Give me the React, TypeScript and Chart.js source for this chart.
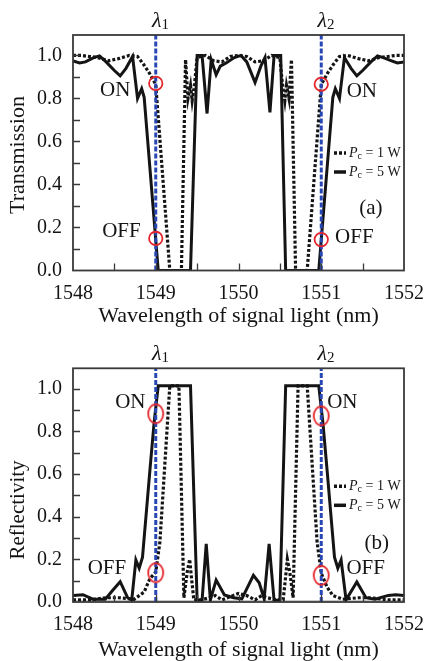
import React, { useEffect, useRef } from "react";
import { Chart, registerables } from "chart.js";

Chart.register(...registerables);

// ---------- axes ----------
const X_MIN = 1548;
const X_MAX = 1552;
const Y_MIN = 0;
const Y_MAX = 1.095;
const X_MINOR_TICKS = [1548.5, 1549, 1549.5, 1550, 1550.5, 1551, 1551.5];
const Y_MINOR_TICKS = [0.1, 0.2, 0.3, 0.4, 0.5, 0.6, 0.7, 0.8, 0.9, 1.0];
const X_TITLE = "Wavelength of signal light (nm)";
const LAMBDA_X = [1549, 1551];
const LAMBDA_SUB = ["1", "2"];
const LEGEND_VALUES = ["1 W", "5 W"];

// ---------- (a) Transmission ----------
const T1_X = [1548.0, 1548.1, 1548.2, 1548.3, 1548.43, 1548.55, 1548.68, 1548.78, 1548.85, 1548.92, 1549.0, 1549.17, 1549.31, 1549.36, 1549.39, 1549.42, 1549.44, 1549.47, 1549.5, 1549.6, 1549.7, 1549.8, 1549.9, 1550.0, 1550.1, 1550.2, 1550.3, 1550.4, 1550.5, 1550.53, 1550.56, 1550.58, 1550.61, 1550.64, 1550.69, 1550.83, 1551.0, 1551.08, 1551.15, 1551.22, 1551.32, 1551.45, 1551.57, 1551.7, 1551.8, 1551.9, 1552.0];
const T1_Y = [1.0, 1.0, 0.995, 0.99, 0.975, 0.985, 1.0, 0.995, 0.96, 0.92, 0.865, 0.0, 0.0, 0.98, 0.8, 0.86, 0.79, 0.87, 0.99, 1.0, 0.975, 0.97, 0.995, 1.0, 0.995, 0.97, 0.975, 1.0, 0.99, 0.87, 0.79, 0.86, 0.8, 0.98, 0.0, 0.0, 0.865, 0.92, 0.96, 0.995, 1.0, 0.985, 0.975, 0.99, 0.995, 1.0, 1.0];
const T5_X = [1548.0, 1548.08, 1548.15, 1548.25, 1548.32, 1548.4, 1548.5, 1548.57, 1548.64, 1548.72, 1548.78, 1548.83, 1548.86, 1549.03, 1549.42, 1549.5, 1549.56, 1549.62, 1549.67, 1549.73, 1549.78, 1549.85, 1549.95, 1550.03, 1550.1, 1550.2, 1550.27, 1550.32, 1550.38, 1550.43, 1550.51, 1550.57, 1550.97, 1551.14, 1551.17, 1551.22, 1551.28, 1551.36, 1551.43, 1551.5, 1551.6, 1551.68, 1551.75, 1551.85, 1551.92, 1552.0];
const T5_Y = [0.975, 0.965, 0.97, 0.99, 0.998, 0.97, 0.93, 0.905, 0.94, 0.995, 0.8, 0.845, 0.805, 0.0, 0.0, 1.0, 1.0, 0.73, 0.98, 0.91, 0.95, 0.965, 0.99, 1.0, 0.97, 0.874, 0.95, 0.99, 0.735, 1.0, 1.0, 0.0, 0.0, 0.805, 0.845, 0.8, 0.99, 0.94, 0.905, 0.93, 0.97, 0.998, 0.99, 0.975, 0.965, 0.97];
const T_MARK_X = [1549, 1549, 1551, 1551];
const T_MARK_Y = [0.87, 0.149, 0.866, 0.144];
const T_NOTE_TEXT = ["ON", "OFF", "ON", "OFF", "(a)"];
const T_NOTE_X = [1548.51, 1548.585, 1551.49, 1551.4, 1551.6];
const T_NOTE_Y = [0.835, 0.18, 0.834, 0.152, 0.29];

// ---------- (b) Reflectivity ----------
const R1_X = [1548.0, 1548.2, 1548.4, 1548.55, 1548.74, 1548.86, 1548.93, 1549.0, 1549.05, 1549.17, 1549.28, 1549.34, 1549.38, 1549.41, 1549.43, 1549.46, 1549.55, 1549.65, 1549.72, 1549.8, 1549.9, 1550.0, 1550.1, 1550.2, 1550.28, 1550.35, 1550.45, 1550.54, 1550.57, 1550.59, 1550.62, 1550.66, 1550.72, 1550.83, 1550.95, 1551.0, 1551.07, 1551.14, 1551.26, 1551.45, 1551.6, 1551.8, 1552.0];
const R1_Y = [0.01, 0.01, 0.02, 0.02, 0.013, 0.047, 0.11, 0.14, 0.28, 1.013, 1.013, 0.02, 0.14, 0.2, 0.12, 0.01, 0.01, 0.02, 0.03, 0.01, 0.025, 0.04, 0.03, 0.01, 0.03, 0.02, 0.01, 0.01, 0.12, 0.2, 0.14, 0.02, 1.013, 1.013, 0.28, 0.135, 0.07, 0.03, 0.013, 0.02, 0.02, 0.01, 0.01];
const R5_X = [1548.0, 1548.12, 1548.24, 1548.39, 1548.47, 1548.57, 1548.66, 1548.71, 1548.76, 1548.8, 1548.84, 1548.93, 1548.98, 1549.03, 1549.42, 1549.5, 1549.56, 1549.61, 1549.66, 1549.73, 1549.83, 1549.94, 1550.04, 1550.18, 1550.25, 1550.31, 1550.37, 1550.43, 1550.5, 1550.57, 1550.97, 1551.02, 1551.07, 1551.16, 1551.2, 1551.24, 1551.3, 1551.43, 1551.54, 1551.65, 1551.81, 1551.9, 1552.0];
const R5_Y = [0.031, 0.034, 0.013, 0.013, 0.05, 0.095, 0.02, 0.01, 0.197, 0.158, 0.21, 0.62, 0.84, 1.013, 1.013, 0.008, 0.008, 0.272, 0.01, 0.103, 0.033, 0.02, 0.015, 0.125, 0.09, 0.015, 0.272, 0.008, 0.008, 1.013, 1.013, 0.84, 0.62, 0.21, 0.158, 0.197, 0.01, 0.094, 0.02, 0.013, 0.031, 0.034, 0.03];
const R_BASE_X = [1548, 1552];
const R_BASE_Y = [0.006, 0.006];
const R_MARK_X = [1549, 1549, 1551, 1551];
const R_MARK_Y = [0.882, 0.137, 0.872, 0.125];
const R_NOTE_TEXT = ["ON", "OFF", "ON", "OFF", "(b)"];
const R_NOTE_X = [1548.693, 1548.41, 1551.255, 1551.537, 1551.67];
const R_NOTE_Y = [0.9325, 0.159, 0.9325, 0.159, 0.276];

// ---------- styling ----------
const SERIF = "'Liberation Serif', 'Times New Roman', serif";
const INK = "#141414";
const FRAME = "#3a3a3a";
const BLUE = "#2846b4";
const RED = "#e3262b";

const pts = (xs: number[], ys: number[]) => xs.map((x, i) => ({ x, y: ys[i] }));

function ellipseStyle(w: number, h: number): HTMLCanvasElement {
  const c = document.createElement("canvas");
  c.width = w + 4;
  c.height = h + 4;
  const g = c.getContext("2d")!;
  g.strokeStyle = RED;
  g.lineWidth = 1.8;
  g.beginPath();
  g.ellipse(c.width / 2, c.height / 2, w / 2, h / 2, 0, 0, Math.PI * 2);
  g.stroke();
  return c;
}

type Spec = {
  padTop: number;
  padRight: number;
  yAxisWidth: number;
  xAxisHeight: number;
  xTitlePadBottom: number;
  yTitle: string;
  yTitleSize: number;
  yTitleCenterY: number;
  series1: { x: number; y: number }[];
  series5: { x: number; y: number }[];
  base?: { x: number; y: number }[];
  marks: { x: number; y: number }[];
  markStyle: any;
  markRadius: number;
  notes: { text: string; x: number; y: number }[];
};

function build(canvas: HTMLCanvasElement, s: Spec): Chart {
  const decor = {
    id: "decor",
    afterDatasetsDraw(chart: any) {
      const { ctx, chartArea: a, scales } = chart;
      const xs = scales.x;
      const ys = scales.y;
      ctx.save();
      ctx.strokeStyle = FRAME;
      ctx.lineWidth = 1.3;
      ctx.beginPath();
      X_MINOR_TICKS.forEach((v) => {
        const px = Math.round(xs.getPixelForValue(v)) + 0.5;
        ctx.moveTo(px, a.bottom);
        ctx.lineTo(px, a.bottom - 7);
      });
      Y_MINOR_TICKS.forEach((v) => {
        const py = Math.round(ys.getPixelForValue(v)) + 0.5;
        ctx.moveTo(a.left, py);
        ctx.lineTo(a.left + 7, py);
      });
      ctx.stroke();
      ctx.lineWidth = 1.8;
      ctx.strokeRect(a.left, a.top, a.right - a.left, a.bottom - a.top);
      ctx.restore();
    },
    afterDraw(chart: any) {
      const { ctx, chartArea: a, scales } = chart;
      const xs = scales.x;
      const ys = scales.y;
      ctx.save();
      ctx.fillStyle = INK;
      ctx.textBaseline = "middle";
      ctx.textAlign = "center";
      // annotations
      ctx.font = `21px ${SERIF}`;
      s.notes.forEach((n) => {
        ctx.fillText(n.text, xs.getPixelForValue(n.x), ys.getPixelForValue(n.y));
      });
      // lambda labels
      LAMBDA_X.forEach((v, i) => {
        const px = xs.getPixelForValue(v);
        const py = a.top - 14;
        ctx.font = `italic 22px ${SERIF}`;
        ctx.textAlign = "center";
        ctx.fillText("λ", px + 1, py);
        const w = ctx.measureText("λ").width;
        ctx.font = `15px ${SERIF}`;
        ctx.textAlign = "left";
        ctx.fillText(LAMBDA_SUB[i], px + 1 + w / 2, py + 4);
      });
      // y title
      ctx.save();
      ctx.translate(18, s.yTitleCenterY);
      ctx.rotate(-Math.PI / 2);
      ctx.textAlign = "center";
      ctx.font = `${s.yTitleSize}px ${SERIF}`;
      ctx.fillText(s.yTitle, 0, 0);
      ctx.restore();
      // legend
      const lx = a.right - 70;
      LEGEND_VALUES.forEach((val, i) => {
        const ly = a.top + 118 + i * 19;
        ctx.save();
        ctx.strokeStyle = INK;
        ctx.lineWidth = 3.5;
        ctx.setLineDash(i === 0 ? [3, 2] : []);
        ctx.beginPath();
        ctx.moveTo(lx, ly);
        ctx.lineTo(lx + 12, ly);
        ctx.stroke();
        ctx.restore();
        ctx.textAlign = "left";
        let tx = lx + 15;
        ctx.font = `italic 14px ${SERIF}`;
        ctx.fillText("P", tx, ly);
        tx += ctx.measureText("P").width;
        ctx.font = `10px ${SERIF}`;
        ctx.fillText("c", tx, ly + 3);
        tx += ctx.measureText("c").width;
        ctx.font = `14px ${SERIF}`;
        ctx.fillText(" = " + val, tx, ly);
      });
      ctx.restore();
    },
  };

  const datasets: any[] = [
    {
      label: "marks",
      data: s.marks,
      showLine: false,
      pointStyle: s.markStyle,
      pointRadius: s.markRadius,
      borderColor: RED,
      borderWidth: 1.8,
      backgroundColor: "rgba(0,0,0,0)",
    },
    ...LAMBDA_X.map((v) => ({
      label: "lambda",
      data: [
        { x: v, y: Y_MIN },
        { x: v, y: Y_MAX },
      ],
      showLine: true,
      pointRadius: 0,
      borderColor: BLUE,
      borderWidth: 3,
      borderDash: [5, 2],
    })),
    {
      label: "Pc = 1 W",
      data: s.series1,
      showLine: true,
      pointRadius: 0,
      borderColor: INK,
      borderWidth: 3.2,
      borderDash: [3, 2],
    },
    {
      label: "Pc = 5 W",
      data: s.series5,
      showLine: true,
      pointRadius: 0,
      borderColor: INK,
      borderWidth: 3,
    },
  ];
  if (s.base) {
    datasets.push({
      label: "base",
      data: s.base,
      showLine: true,
      pointRadius: 0,
      borderColor: "#b8b8b8",
      borderWidth: 1,
    });
  }

  return new Chart(canvas, {
    type: "scatter",
    data: { datasets },
    options: {
      animation: false,
      responsive: false,
      events: [],
      layout: { padding: { top: s.padTop, right: s.padRight, left: 0, bottom: 0 } },
      plugins: { legend: { display: false }, tooltip: { enabled: false } },
      scales: {
        x: {
          type: "linear",
          min: X_MIN,
          max: X_MAX,
          grid: { display: false, drawTicks: false },
          border: { display: false },
          ticks: {
            stepSize: 1,
            includeBounds: false,
            padding: 11,
            color: INK,
            font: { family: SERIF, size: 20 },
            callback: (v: any) => String(v),
          },
          title: {
            display: true,
            text: X_TITLE,
            color: INK,
            font: { family: SERIF, size: 22, lineHeight: 1 },
            padding: { top: 0, bottom: s.xTitlePadBottom },
          },
          afterFit: (sc: any) => {
            sc.height = s.xAxisHeight;
          },
        },
        y: {
          type: "linear",
          min: Y_MIN,
          max: Y_MAX,
          grid: { display: false, drawTicks: false },
          border: { display: false },
          ticks: {
            stepSize: 0.2,
            includeBounds: false,
            padding: 11,
            color: INK,
            font: { family: SERIF, size: 20 },
            callback: (v: any) => Number(v).toFixed(1),
          },
          afterFit: (sc: any) => {
            sc.width = s.yAxisWidth;
          },
        },
      },
    },
    plugins: [decor],
  } as any);
}

export default function App() {
  const topRef = useRef<HTMLCanvasElement>(null);
  const botRef = useRef<HTMLCanvasElement>(null);

  useEffect(() => {
    const c1 = build(topRef.current!, {
      padTop: 35,
      padRight: 18.5,
      yAxisWidth: 73,
      xAxisHeight: 59.5,
      xTitlePadBottom: 2.5,
      yTitle: "Transmission",
      yTitleSize: 22,
      yTitleCenterY: 155,
      series1: pts(T1_X, T1_Y),
      series5: pts(T5_X, T5_Y),
      marks: pts(T_MARK_X, T_MARK_Y),
      markStyle: "circle",
      markRadius: 6.7,
      notes: T_NOTE_TEXT.map((t, i) => ({ text: t, x: T_NOTE_X[i], y: T_NOTE_Y[i] })),
    });
    const c2 = build(botRef.current!, {
      padTop: 38.3,
      padRight: 18.5,
      yAxisWidth: 73,
      xAxisHeight: 59,
      xTitlePadBottom: 0,
      yTitle: "Reflectivity",
      yTitleSize: 21,
      yTitleCenterY: 180,
      series1: pts(R1_X, R1_Y),
      series5: pts(R5_X, R5_Y),
      base: pts(R_BASE_X, R_BASE_Y),
      marks: pts(R_MARK_X, R_MARK_Y),
      markStyle: ellipseStyle(15, 19),
      markRadius: 10,
      notes: R_NOTE_TEXT.map((t, i) => ({ text: t, x: R_NOTE_X[i], y: R_NOTE_Y[i] })),
    });
    return () => {
      c1.destroy();
      c2.destroy();
    };
  }, []);

  return (
    <div style={{ position: "absolute", left: 0, top: 0, width: 435, height: 661, background: "#fff" }}>
      <canvas ref={topRef} width={435} height={330} style={{ position: "absolute", left: 0, top: 0, width: 435, height: 330 }} />
      <canvas ref={botRef} width={435} height={331} style={{ position: "absolute", left: 0, top: 330, width: 435, height: 331 }} />
    </div>
  );
}
